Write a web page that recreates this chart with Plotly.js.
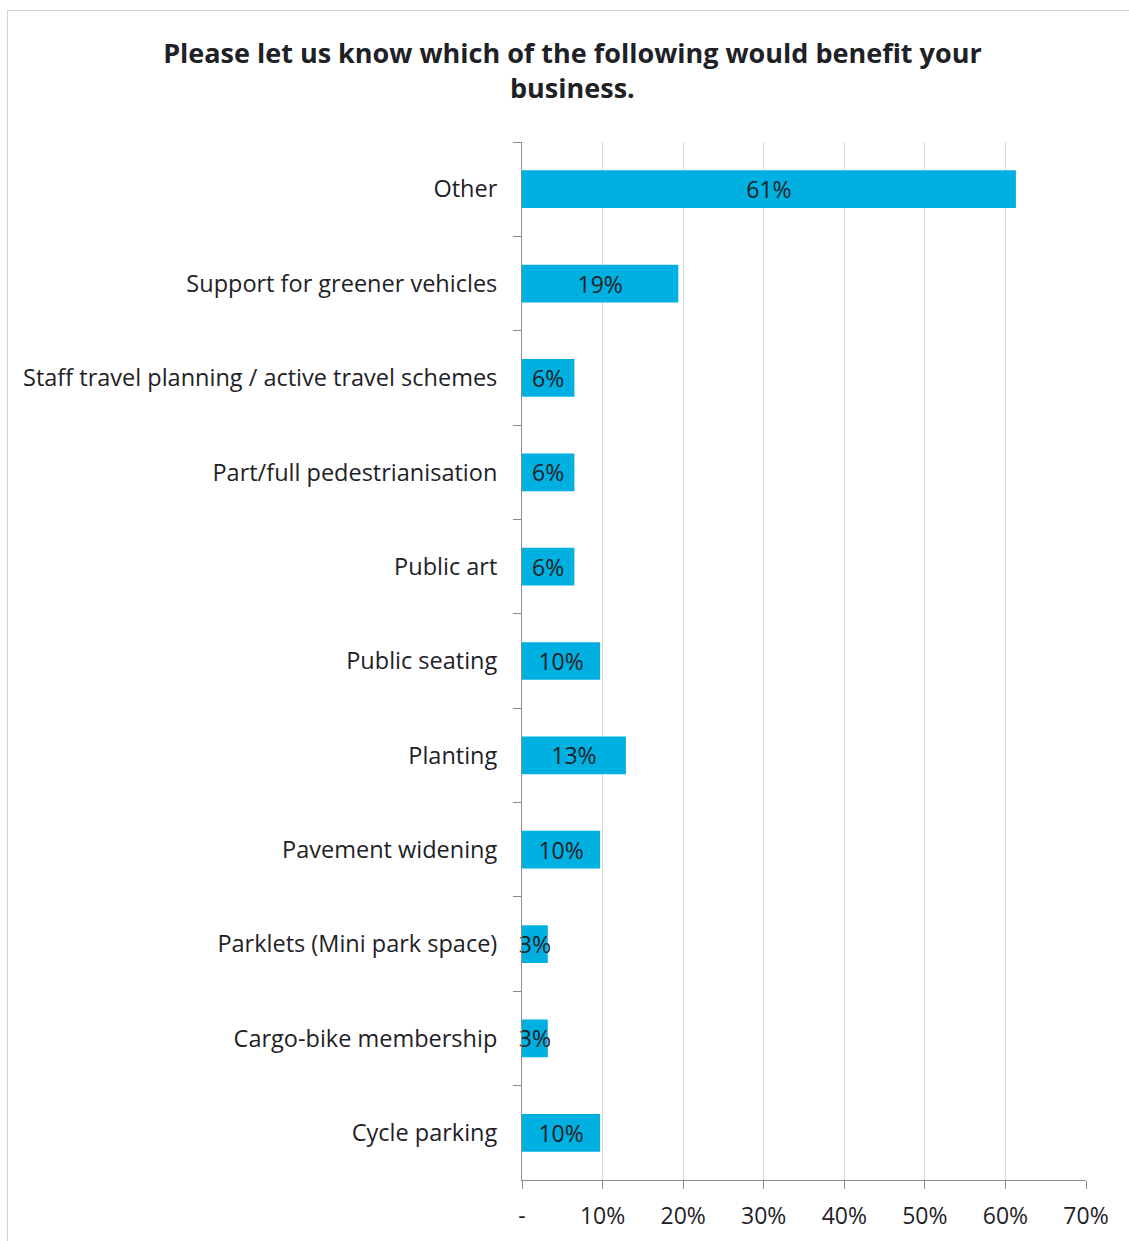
<!DOCTYPE html>
<html>
<head>
<meta charset="utf-8">
<script src="https://cdn.plot.ly/plotly-3.0.1.min.js"></script>
<style>
  html, body { margin: 0; padding: 0; background: #fff; }
  #wrap { position: relative; width: 1129px; height: 1241px; }
  #chart { position: absolute; left: 0; top: 0; width: 1129px; height: 1241px; }
  #frame { position: absolute; left: 7px; top: 10px; width: 1122px; height: 1231px;
           border-left: 1px solid #d4d4d4; border-top: 1px solid #d4d4d4; pointer-events: none; }
</style>
</head>
<body>
<div id="wrap">
  <div id="chart"></div>
  <div id="frame"></div>
</div>
<script>
const categories = [
  "Other",
  "Support for greener vehicles",
  "Staff travel planning / active travel schemes",
  "Part/full pedestrianisation",
  "Public art",
  "Public seating",
  "Planting",
  "Pavement widening",
  "Parklets (Mini park space)",
  "Cargo-bike membership",
  "Cycle parking"
];
const values = [61.3, 19.4, 6.5, 6.5, 6.5, 9.7, 12.9, 9.7, 3.2, 3.2, 9.7];
const labels = ["61%", "19%", "6%", "6%", "6%", "10%", "13%", "10%", "3%", "3%", "10%"];
const tickVals = [0, 10, 20, 30, 40, 50, 60, 70];
const tickText = ["-", "10%", "20%", "30%", "40%", "50%", "60%", "70%"];
const titleText = "Please let us know which of the following would benefit your<br>business.";

const FONT = "'Open Sans', sans-serif";
const TXT = "#1e2227";

const trace = {
  type: "bar",
  orientation: "h",
  y: categories,
  x: values,
  text: labels,
  textposition: "inside",
  insidetextanchor: "middle",
  textangle: 0,
  constraintext: "none",
  cliponaxis: false,
  textfont: { family: FONT, size: 23, color: TXT },
  marker: { color: "#00B0E0", line: { width: 0 } },
  hoverinfo: "none"
};

const layout = {
  width: 1129,
  height: 1241,
  paper_bgcolor: "rgba(0,0,0,0)",
  plot_bgcolor: "rgba(0,0,0,0)",
  margin: { l: 522, r: 43, t: 142, b: 61, pad: 0 },
  bargap: 0.6,
  showlegend: false,
  font: { family: FONT, size: 23, color: TXT },
  title: {
    text: titleText,
    font: { family: FONT, size: 27, color: TXT, weight: "bold" },
    x: 0.507, xanchor: "center",
    y: 0.949, yanchor: "top", yref: "container"
  },
  xaxis: {
    range: [0, 70],
    tickvals: tickVals,
    ticktext: tickText,
    showgrid: true,
    gridcolor: "#d9d9d9",
    gridwidth: 1,
    zeroline: false,
    showline: true,
    linecolor: "#8c8c8c",
    linewidth: 1,
    ticks: "outside",
    ticklen: 8,
    tickcolor: "#8c8c8c",
    tickfont: { family: FONT, size: 23, color: TXT },
    ticklabelstandoff: 7,
    fixedrange: true
  },
  yaxis: {
    type: "category",
    autorange: "reversed",
    showgrid: false,
    zeroline: false,
    showline: true,
    linecolor: "#8c8c8c",
    linewidth: 1,
    ticks: "outside",
    tickson: "boundaries",
    ticklen: 8,
    tickcolor: "#8c8c8c",
    tickfont: { family: FONT, size: 23.5, color: TXT },
    ticklabelstandoff: 19,
    fixedrange: true
  }
};

Plotly.newPlot("chart", [trace], layout, { displayModeBar: false, staticPlot: true });
</script>
</body>
</html>
